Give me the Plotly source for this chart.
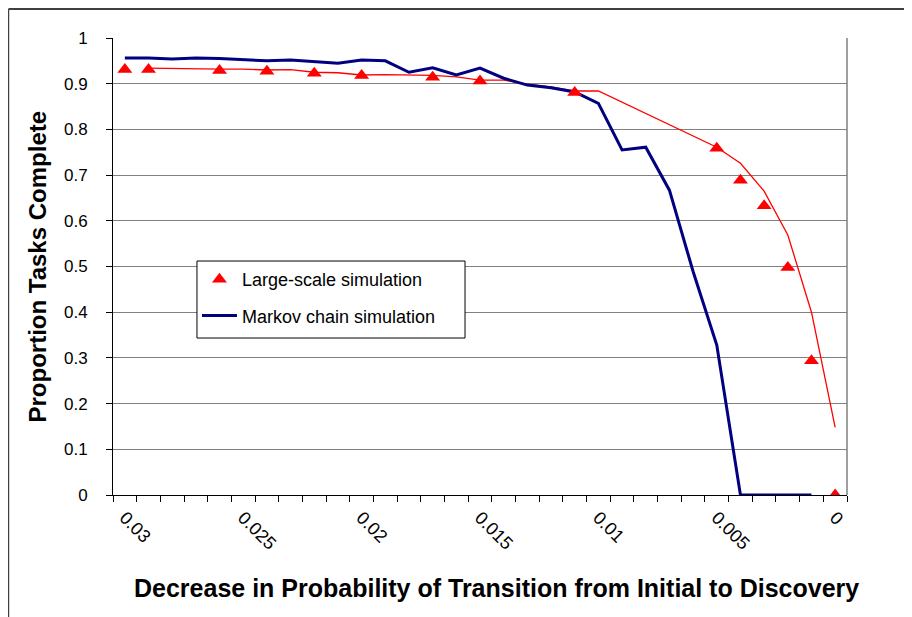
import plotly.graph_objects as go

# ---- data ----
decrease = [0.030, 0.029, 0.028, 0.027, 0.026, 0.025, 0.024, 0.023, 0.022, 0.021,
            0.020, 0.019, 0.018, 0.017, 0.016, 0.015, 0.014, 0.013, 0.012, 0.011,
            0.010, 0.009, 0.008, 0.007, 0.006, 0.005, 0.004, 0.003, 0.002, 0.001,
            0.000]

large_scale = [0.931, 0.931, None, None, 0.929, None, 0.927, None, 0.923, None,
               0.918, None, None, 0.914, None, 0.906, None, None, None, 0.881,
               None, None, None, None, None, 0.759, 0.689, 0.633, 0.498, 0.294,
               0.0]

large_scale_trend = [None, 0.934, 0.933, 0.933, 0.932, 0.932, 0.930, 0.931, 0.925, 0.924,
                     0.919, 0.920, 0.919, 0.918, 0.915, 0.908, 0.908, 0.899, 0.893, 0.884,
                     0.884, None, None, None, None, 0.761, 0.726, 0.665, 0.569, 0.400,
                     0.148]

markov = [0.956, 0.956, 0.954, 0.956, 0.955, 0.952, 0.950, 0.952, 0.948, 0.945,
          0.952, 0.950, 0.925, 0.935, 0.919, 0.934, 0.912, 0.897, 0.891, 0.882,
          0.857, 0.755, 0.761, 0.667, 0.489, 0.328, 0.0, 0.0, 0.0, 0.0,
          None]

x_tickvals = [0.03, 0.025, 0.02, 0.015, 0.01, 0.005, 0.0]
x_ticktext = ["0.03", "0.025", "0.02", "0.015", "0.01", "0.005", "0"]
y_tickvals = [0, 0.1, 0.2, 0.3, 0.4, 0.5, 0.6, 0.7, 0.8, 0.9, 1]
y_ticktext = ["0", "0.1", "0.2", "0.3", "0.4", "0.5", "0.6", "0.7", "0.8", "0.9", "1"]

FONT = "Arial, 'Liberation Sans', sans-serif"

fig = go.Figure()

fig.add_trace(go.Scatter(
    x=decrease, y=large_scale_trend, mode="lines", connectgaps=True,
    line=dict(color="#FF0000", width=1.3), showlegend=False, hoverinfo="skip"))

fig.add_trace(go.Scatter(
    x=decrease, y=markov, mode="lines", name="Markov chain simulation",
    legendgroup="b", legendrank=2,
    line=dict(color="#000080", width=3)))

fig.add_trace(go.Scatter(
    x=decrease, y=large_scale, mode="markers", name="Large-scale simulation",
    legendgroup="a", legendrank=1,
    marker=dict(symbol="triangle-up", color="#FF0000", size=13)))

# boundaries between categories for tick marks
step = 0.001
boundaries = [0.0305 - step * i for i in range(32)]

fig.update_layout(
    width=904, height=609,
    margin=dict(l=105, r=65, t=30, b=122),
    paper_bgcolor="white", plot_bgcolor="white",
    font=dict(family=FONT, size=17, color="black"),
    xaxis=dict(
        range=[0.0305, -0.0005],
        tickmode="array", tickvals=x_tickvals, ticktext=x_ticktext,
        ticks="", tickangle=45, ticklabelstandoff=4,
        showgrid=False, zeroline=False,
        showline=True, linecolor="black", linewidth=1,
        minor=dict(tickmode="array", tickvals=boundaries, ticks="outside",
                   ticklen=6, tickcolor="black", tickwidth=1, showgrid=False),
        tickfont=dict(size=18),
    ),
    yaxis=dict(
        range=[0, 1],
        tickmode="array", tickvals=y_tickvals, ticktext=y_ticktext,
        ticks="outside", ticklen=6, tickcolor="black",
        ticklabelstandoff=15,
        showgrid=True, gridcolor="#808080", gridwidth=1,
        zeroline=False,
        showline=True, linecolor="black", linewidth=1,
        tickfont=dict(size=17),
    ),
    legend=dict(
        x=0.1144, y=0.512, xanchor="left", yanchor="top",
        bgcolor="rgba(0,0,0,0)", borderwidth=0,
        font=dict(size=18, family=FONT),
        traceorder="grouped",
        itemwidth=35,
        tracegroupgap=10,
    ),
    showlegend=True,
)

# legend box (white with black border)
fig.add_shape(type="rect", xref="paper", yref="paper",
              x0=0.1144, x1=0.4796, y0=0.3435, y1=0.512, layer="above",
              fillcolor="white", line=dict(color="black", width=1))

# plot-area right border (grey)
fig.add_shape(type="line", xref="paper", yref="paper", x0=1, x1=1, y0=0, y1=1,
              line=dict(color="#808080", width=1.5))
# chart-area frame (top and left)
fig.add_shape(type="line", xref="paper", yref="paper", x0=-0.1424, x1=1.0886,
              y0=1.0635, y1=1.0635, line=dict(color="black", width=1.5))
fig.add_shape(type="line", xref="paper", yref="paper", x0=-0.1424, x1=-0.1424,
              y0=-0.267, y1=1.0635, line=dict(color="#404040", width=1.5))

# axis titles
fig.add_annotation(text="<b>Proportion Tasks Complete</b>", xref="paper", yref="paper",
                   x=-0.1035, y=0.5, textangle=-90, showarrow=False,
                   xanchor="center", yanchor="middle",
                   font=dict(size=24, family=FONT, color="black"))
fig.add_annotation(text="<b>Decrease in Probability of Transition from Initial to Discovery</b>",
                   xref="paper", yref="paper", x=0.5218, y=-0.2035, showarrow=False,
                   xanchor="center", yanchor="middle",
                   font=dict(size=25, family=FONT, color="black"))

fig.write_html("out.html")
